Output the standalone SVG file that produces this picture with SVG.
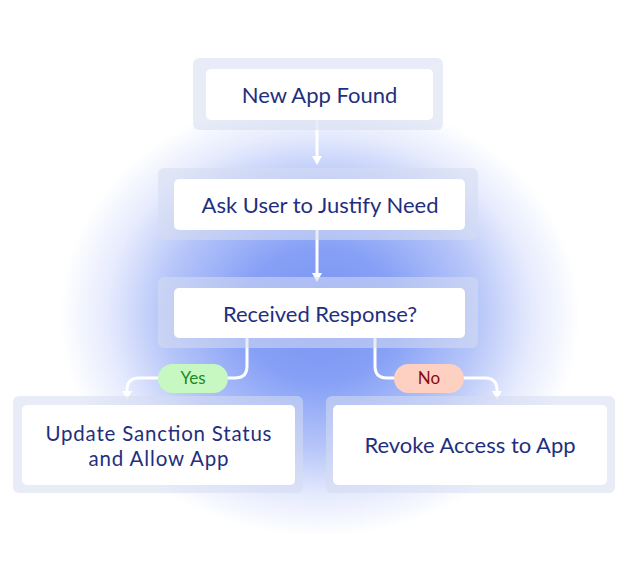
<svg xmlns="http://www.w3.org/2000/svg" width="639" height="569" viewBox="0 0 639 569">
<defs>
<radialGradient id="glow" cx="320" cy="315" r="260" gradientUnits="userSpaceOnUse" gradientTransform="translate(320 315) scale(1 0.85) translate(-320 -315)">
<stop offset="0" stop-color="#7a94f5"/>
<stop offset="0.3" stop-color="#86a0f6"/>
<stop offset="0.6" stop-color="#b6c5f9"/>
<stop offset="0.82" stop-color="#e6ebfd"/>
<stop offset="1" stop-color="#ffffff"/>
</radialGradient>
<style>
.outer{fill:#d5dcf0;fill-opacity:0.55}
.inner{fill:#ffffff}
.t{font-family:Lato,"Liberation Sans",sans-serif;font-size:22px;fill:#1f2f7e;text-anchor:middle}
.t2{font-family:Lato,"Liberation Sans",sans-serif;font-size:20.5px;fill:#1f2f7e;text-anchor:middle}
.lab{font-family:Lato,"Liberation Sans",sans-serif;font-size:17px;text-anchor:middle}
.c{fill:none;stroke:#ffffff;stroke-width:3}
.ah{fill:#ffffff}
</style>
</defs>
<rect width="639" height="569" fill="#ffffff"/>
<rect width="639" height="569" fill="url(#glow)"/>
<g id="connectors">
<line class="c" x1="317" y1="120" x2="317" y2="157"/>
<path class="ah" d="M312,156 L322,156 L317,165 Z"/>
<line class="c" x1="317" y1="230" x2="317" y2="274"/>
<path class="ah" d="M312,273 L322,273 L317,282 Z"/>
<path class="c" d="M247,338 V366 Q247,378 235,378 H139 Q127,378 127,390 V392"/>
<path class="ah" d="M122,391 L132,391 L127,400 Z"/>
<path class="c" d="M375,338 V366 Q375,378 387,378 H485 Q497,378 497,390 V392"/>
<path class="ah" d="M492,391 L502,391 L497,400 Z"/>
</g>
<g id="node1">
<rect class="outer" x="193" y="58" width="250" height="72" rx="6"/>
<rect class="inner" x="206" y="69" width="227" height="51" rx="5"/>
<text class="t" x="319.5" y="103">New App Found</text>
</g>
<g id="node2">
<rect class="outer" x="158" y="168" width="320" height="72" rx="6"/>
<rect class="inner" x="174" y="179" width="291" height="51" rx="5"/>
<text class="t" x="320" y="213">Ask User to Justify Need</text>
</g>
<g id="node3">
<rect class="outer" x="158" y="277" width="320" height="71" rx="6"/>
<rect class="inner" x="174" y="288" width="291" height="50" rx="5"/>
<text class="t" x="320" y="322">Received Response?</text>
</g>
<g id="yes">
<rect x="158" y="364" width="70" height="29" rx="14.5" fill="#c8f8c2"/>
<text class="lab" x="193" y="384" fill="#1e8a1e">Yes</text>
</g>
<g id="no">
<rect x="394" y="364" width="70" height="29" rx="14.5" fill="#fdd0c2"/>
<text class="lab" x="429" y="384" fill="#8a0a0a">No</text>
</g>
<g id="node4">
<rect class="outer" x="13" y="396" width="290" height="97" rx="6"/>
<rect class="inner" x="22" y="405" width="273" height="80" rx="5"/>
<text class="t2" x="158.5" y="441" textLength="226" lengthAdjust="spacing">Update Sanction Status</text>
<text class="t2" x="158.5" y="466" textLength="140" lengthAdjust="spacing">and Allow App</text>
</g>
<g id="node5">
<rect class="outer" x="326" y="396" width="289" height="97" rx="6"/>
<rect class="inner" x="333" y="405" width="274" height="80" rx="5"/>
<text class="t" x="470" y="453">Revoke Access to App</text>
</g>
</svg>
